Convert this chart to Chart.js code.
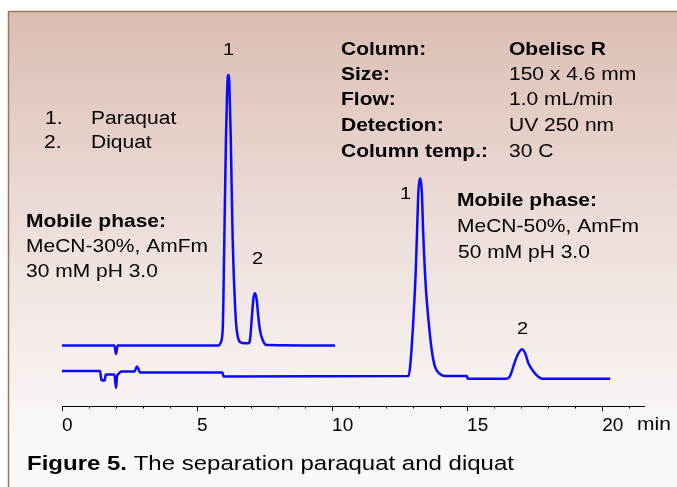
<!DOCTYPE html>
<html>
<head>
<meta charset="utf-8">
<script src="https://cdn.jsdelivr.net/npm/chart.js@4.4.1/dist/chart.umd.min.js"></script>
<style>
  html, body { margin: 0; padding: 0; background: #ffffff; }
  canvas { display: block; }
</style>
</head>
<body>
<canvas id="chrom" width="677" height="487"></canvas>
<script>
// upper trace: MeCN-30% (time in min, signal in arbitrary units)
const topTimes = [0, 1.94, 2.0, 2.06, 5.8, 5.87, 5.95, 6.01, 6.07, 6.12, 6.16, 6.2, 6.25, 6.32, 6.41, 6.47, 6.59, 6.78, 6.9, 6.96, 7.03, 7.09, 7.15, 7.21, 7.27, 7.33, 7.43, 7.58, 10.11]
const topSignal = [60.5, 60.5, 52, 60.5, 60.5, 63, 76, 166, 266, 320, 331, 320, 266, 166, 99, 76, 64, 62.7, 62.7, 66, 89, 108, 112.7, 106, 89, 76, 66, 61, 60.5]

// lower trace: MeCN-50%
const lowTimes = [0, 1.41, 1.46, 1.58, 1.62, 1.94, 2.0, 2.04, 2.09, 2.19, 2.69, 2.77, 2.83, 2.89, 5.94, 5.98, 12.83, 12.89, 13.01, 13.1, 13.16, 13.2, 13.26, 13.32, 13.38, 13.47, 13.57, 13.69, 13.81, 14.0, 14.19, 14.99, 15.02, 16.47, 16.59, 16.71, 16.84, 17.03, 17.15, 17.27, 17.46, 17.64, 17.77, 20.3]
const lowSignal = [35, 35, 26, 25.5, 31.5, 31.5, 18, 30, 32, 34.5, 34.5, 39.5, 37, 33.5, 33.5, 29.5, 30, 39.3, 86, 136, 186, 216, 227.7, 216, 169.3, 119.3, 86, 56, 39.3, 32, 30, 30, 27.3, 27.3, 30, 39.3, 49.3, 56.7, 52.7, 42.7, 34.3, 29.3, 27.3, 27.3]

const xTicks = [0, 5, 10, 15, 20]
const xMax = 21.55
const yMax = 391

const traceColor = '#0a0aff'

function toPoints(ts, vs) {
    return ts.map((t, i) => ({ x: t, y: vs[i] }))
}

function squash(ctx, txt, x, y, font) {
    ctx.save()
    ctx.font = font
    ctx.translate(x, y)
    ctx.scale(1, 0.86)
    ctx.textBaseline = 'middle'
    ctx.textAlign = 'left'
    ctx.fillStyle = '#000000'
    ctx.fillText(txt, 0, 0)
    ctx.restore()
}

const FONT = '"Liberation Sans", Arial, sans-serif'

const paperPlugin = {
    id: 'paper',
    beforeDraw(chart) {
        const ctx = chart.ctx
        ctx.save()
        ctx.fillStyle = '#ffffff'
        ctx.fillRect(0, 0, chart.width, chart.height)
        const g = ctx.createLinearGradient(0, 12, 0, 440)
        g.addColorStop(0, '#dbbdb3')
        g.addColorStop(0.45, '#ebdbd6')
        g.addColorStop(1, '#fbf9f8')
        ctx.fillStyle = g
        ctx.fillRect(8, 11, chart.width - 8, chart.height - 11)
        ctx.strokeStyle = '#9a7856'
        ctx.lineWidth = 1.5
        ctx.beginPath()
        ctx.moveTo(8.5, chart.height)
        ctx.lineTo(8.5, 11.5)
        ctx.lineTo(chart.width, 11.5)
        ctx.stroke()
        ctx.restore()
    },
    afterDraw(chart) {
        const ctx = chart.ctx
        const xs = chart.scales.x
        const yAxis = chart.chartArea.bottom
        // minor ticks every minute
        ctx.save()
        ctx.strokeStyle = '#000000'
        ctx.lineWidth = 1
        for (let t = 1; t <= 21; t++) {
            if (t % 5 === 0) continue
            const px = Math.round(xs.getPixelForValue(t)) + 0.5
            ctx.beginPath()
            ctx.moveTo(px, yAxis)
            ctx.lineTo(px, yAxis + 2.5)
            ctx.stroke()
        }
        ctx.restore()

        // unit
        squash(ctx, 'min', 637, 425, '21px ' + FONT)

        // conditions
        const rows = [['Column:', 'Obelisc R'], ['Size:', '150 x 4.6 mm'], ['Flow:', '1.0 mL/min'],
            ['Detection:', 'UV 250 nm'], ['Column temp.:', '30 C']]
        const rowY = [50, 75, 100, 126, 152]
        rows.forEach((r, i) => {
            squash(ctx, r[0], 341, rowY[i], 'bold 21px ' + FONT)
            squash(ctx, r[1], 509, rowY[i], (i === 0 ? 'bold ' : '') + '21px ' + FONT)
        })

        // compound list
        squash(ctx, '1.', 45, 119, '21px ' + FONT)
        squash(ctx, 'Paraquat', 91, 119, '21px ' + FONT)
        squash(ctx, '2.', 44, 143, '21px ' + FONT)
        squash(ctx, 'Diquat', 91, 143, '21px ' + FONT)

        // mobile phases
        squash(ctx, 'Mobile phase:', 26, 222, 'bold 21px ' + FONT)
        squash(ctx, 'MeCN-30%, AmFm', 26, 247, '21px ' + FONT)
        squash(ctx, '30 mM pH 3.0', 26, 272, '21px ' + FONT)
        squash(ctx, 'Mobile phase:', 457, 201, 'bold 21px ' + FONT)
        squash(ctx, 'MeCN-50%, AmFm', 457, 227, '21px ' + FONT)
        squash(ctx, '50 mM pH 3.0', 458, 253, '21px ' + FONT)

        // peak numbers
        squash(ctx, '1', 223, 50, '20px ' + FONT)
        squash(ctx, '2', 252, 259, '20px ' + FONT)
        squash(ctx, '1', 400, 194, '20px ' + FONT)
        squash(ctx, '2', 517, 329, '20px ' + FONT)

        // caption
        ctx.save()
        ctx.font = 'bold 24px ' + FONT
        const w = ctx.measureText('Figure 5.').width
        ctx.restore()
        squash(ctx, 'Figure 5.', 27, 464, 'bold 24px ' + FONT)
        squash(ctx, ' The separation paraquat and diquat', 27 + w, 464, '24px ' + FONT)
    }
}

new Chart(document.getElementById('chrom'), {
    type: 'line',
    data: {
        datasets: [
            {
                label: 'MeCN-30%',
                data: toPoints(topTimes, topSignal),
                borderColor: traceColor,
                borderWidth: 2.5,
                pointRadius: 0,
                cubicInterpolationMode: 'monotone',
                fill: false
            },
            {
                label: 'MeCN-50%',
                data: toPoints(lowTimes, lowSignal),
                borderColor: traceColor,
                borderWidth: 2.5,
                pointRadius: 0,
                cubicInterpolationMode: 'monotone',
                fill: false
            }
        ]
    },
    options: {
        responsive: false,
        animation: false,
        layout: { padding: { left: 62, right: 33, top: 15, bottom: 0 } },
        plugins: { legend: { display: false }, tooltip: { enabled: false } },
        scales: {
            x: {
                type: 'linear',
                min: 0,
                max: xMax,
                afterFit: (scale) => { scale.height = 81 },
                afterBuildTicks: (scale) => { scale.ticks = xTicks.map(v => ({ value: v })) },
                ticks: {
                    align: 'start',
                    padding: 3,
                    color: '#000000',
                    font: { family: FONT, size: 19 },
                    maxRotation: 0,
                    callback: (v) => v
                },
                grid: { drawOnChartArea: false, drawTicks: true, tickLength: 5, color: '#000000' },
                border: { display: true, color: '#000000', width: 1 }
            },
            y: {
                display: false,
                min: 0,
                max: yMax
            }
        }
    },
    plugins: [paperPlugin]
})
</script>
</body>
</html>
